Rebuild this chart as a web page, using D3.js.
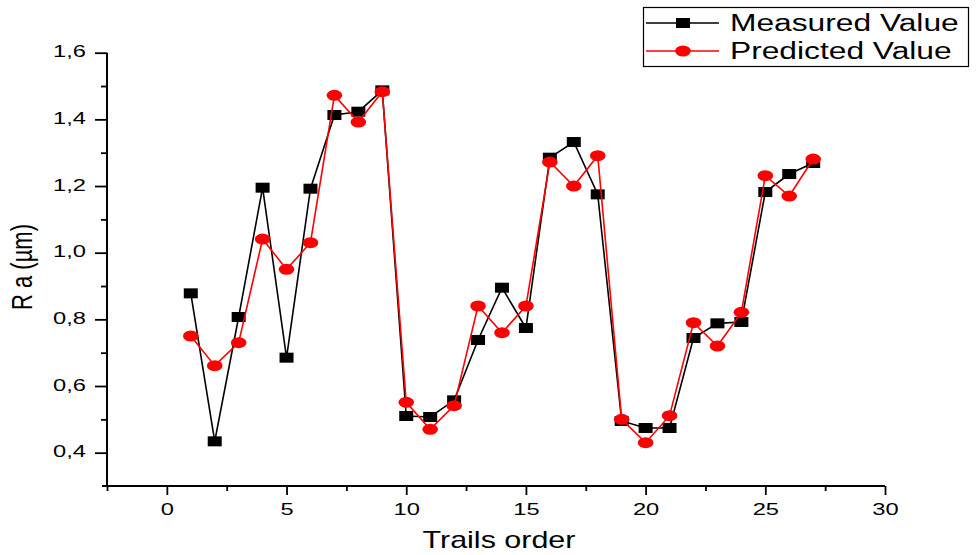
<!DOCTYPE html>
<html lang="en">
<head>
    <meta charset="UTF-8">
    <title>Measured vs Predicted Ra</title>
    <script src="https://d3js.org/d3.v7.min.js"></script>
    <style>
        body {
            margin: 0;
            background: #fff;
        }
        svg text {
            font-family: "Liberation Sans", Arial, sans-serif;
            fill: #000;
        }
    </style>
</head>
<body>
    <script>
        // data
        const trials = d3.range(1, 28);
        const measured = [0.878, 0.434, 0.807, 1.195, 0.685, 1.192, 1.413, 1.423, 1.487, 0.510,
                          0.507, 0.557, 0.738, 0.895, 0.774, 1.285, 1.332, 1.175, 0.495, 0.474,
                          0.474, 0.744, 0.788, 0.792, 1.182, 1.236, 1.269];
        const predicted = [0.750, 0.661, 0.730, 1.041, 0.950, 1.030, 1.472, 1.392, 1.483, 0.551,
                           0.470, 0.541, 0.840, 0.760, 0.840, 1.272, 1.200, 1.291, 0.500, 0.430,
                           0.511, 0.790, 0.720, 0.821, 1.231, 1.170, 1.281];
        const xTicks = [0, 5, 10, 15, 20, 25, 30];
        const yTicks = [0.4, 0.6, 0.8, 1.0, 1.2, 1.4, 1.6];
        const seriesNames = ["Measured Value", "Predicted Value"];

        const width = 979, height = 555;
        const svg = d3.select("body").append("svg")
            .attr("width", width)
            .attr("height", height);

        const x = d3.scaleLinear().domain([-2.5, 30]).range([107, 885]);
        const y = d3.scaleLinear().domain([0.3, 1.6]).range([486, 52.7]);

        const comma = v => d3.format(".1f")(v).replace(".", ",");

        // minor ticks first
        svg.append("g")
            .attr("transform", `translate(0,${y(0.3)})`)
            .call(d3.axisBottom(x).tickValues(d3.range(-2.5, 30, 5)).tickSize(5).tickFormat(""))
            .call(g => g.select(".domain").remove())
            .selectAll("line").attr("stroke-width", 1.8);

        svg.append("g")
            .attr("transform", `translate(${x(-2.5)},0)`)
            .call(d3.axisLeft(y).tickValues(d3.range(0.5, 1.6, 0.2)).tickSize(6).tickFormat(""))
            .call(g => g.select(".domain").remove())
            .selectAll("line").attr("stroke-width", 1.8);

        const xAxis = svg.append("g")
            .attr("transform", `translate(0,${y(0.3)})`)
            .call(d3.axisBottom(x).tickValues(xTicks).tickSize(9).tickSizeOuter(0).tickFormat(d3.format("d")));
        xAxis.select(".domain").attr("stroke-width", 2).attr("d", `M${x(-2.5) - 5},0H${x(30)}`);
        xAxis.selectAll("line").attr("stroke-width", 1.8);
        xAxis.selectAll("text")
            .attr("y", null).attr("dy", null)
            .attr("transform", "translate(0,29) scale(1.48,1)")
            .attr("font-size", 16)
            .attr("text-anchor", "middle");

        const yAxis = svg.append("g")
            .attr("transform", `translate(${x(-2.5)},0)`)
            .call(d3.axisLeft(y).tickValues(yTicks).tickSize(12).tickSizeOuter(0).tickFormat(comma));
        yAxis.select(".domain").attr("stroke-width", 2).attr("d", `M0,${y(1.6)}V${y(0.3)}`);
        yAxis.selectAll("line").attr("stroke-width", 1.8);
        yAxis.selectAll("text")
            .attr("x", null).attr("dy", "0.32em")
            .attr("transform", "translate(-21,-1) scale(1.48,1)")
            .attr("font-size", 16)
            .attr("text-anchor", "end");

        // axis titles
        svg.append("text")
            .attr("transform", "translate(499,548) scale(1.27,1)")
            .attr("text-anchor", "middle")
            .attr("font-size", 24)
            .text("Trails order");

        svg.append("text")
            .attr("transform", "translate(32,267) scale(1.3,1) rotate(-90)")
            .attr("text-anchor", "middle")
            .attr("font-size", 22)
            .text("R a (µm)");

        const line = d3.line().x((d, i) => x(trials[i])).y(d => y(d));

        // measured series
        svg.append("path")
            .datum(measured)
            .attr("fill", "none")
            .attr("stroke", "#000")
            .attr("stroke-width", 1.6)
            .attr("d", line);
        svg.append("g").selectAll("rect")
            .data(measured)
            .join("rect")
            .attr("x", (d, i) => x(trials[i]) - 7)
            .attr("y", d => y(d) - 5)
            .attr("width", 14)
            .attr("height", 10)
            .attr("fill", "#000");

        // predicted series
        svg.append("path")
            .datum(predicted)
            .attr("fill", "none")
            .attr("stroke", "#ff0000")
            .attr("stroke-width", 1.6)
            .attr("d", line);
        svg.append("g").selectAll("ellipse")
            .data(predicted)
            .join("ellipse")
            .attr("cx", (d, i) => x(trials[i]))
            .attr("cy", d => y(d))
            .attr("rx", 7.8)
            .attr("ry", 5.5)
            .attr("fill", "#ff0000");

        // legend
        const legend = svg.append("g");
        legend.append("rect")
            .attr("x", 643.5).attr("y", 7.5)
            .attr("width", 325).attr("height", 59)
            .attr("fill", "#fff")
            .attr("stroke", "#000")
            .attr("stroke-width", 1.2);

        const rows = [{ name: seriesNames[0], color: "#000", y: 23 }, { name: seriesNames[1], color: "#ff0000", y: 51 }];
        rows.forEach((r, i) => {
            legend.append("line")
                .attr("x1", 646).attr("x2", 719)
                .attr("y1", r.y).attr("y2", r.y)
                .attr("stroke", r.color)
                .attr("stroke-width", 1.6);
            if (i === 0) {
                legend.append("rect")
                    .attr("x", 676).attr("y", r.y - 5)
                    .attr("width", 14).attr("height", 10)
                    .attr("fill", "#000");
            } else {
                legend.append("ellipse")
                    .attr("cx", 683).attr("cy", r.y)
                    .attr("rx", 7.8).attr("ry", 5.5)
                    .attr("fill", "#ff0000");
            }
            legend.append("text")
                .attr("transform", `translate(730,${r.y + 8}) scale(1.38,1)`)
                .attr("font-size", 23)
                .text(r.name);
        });
    </script>
</body>
</html>
